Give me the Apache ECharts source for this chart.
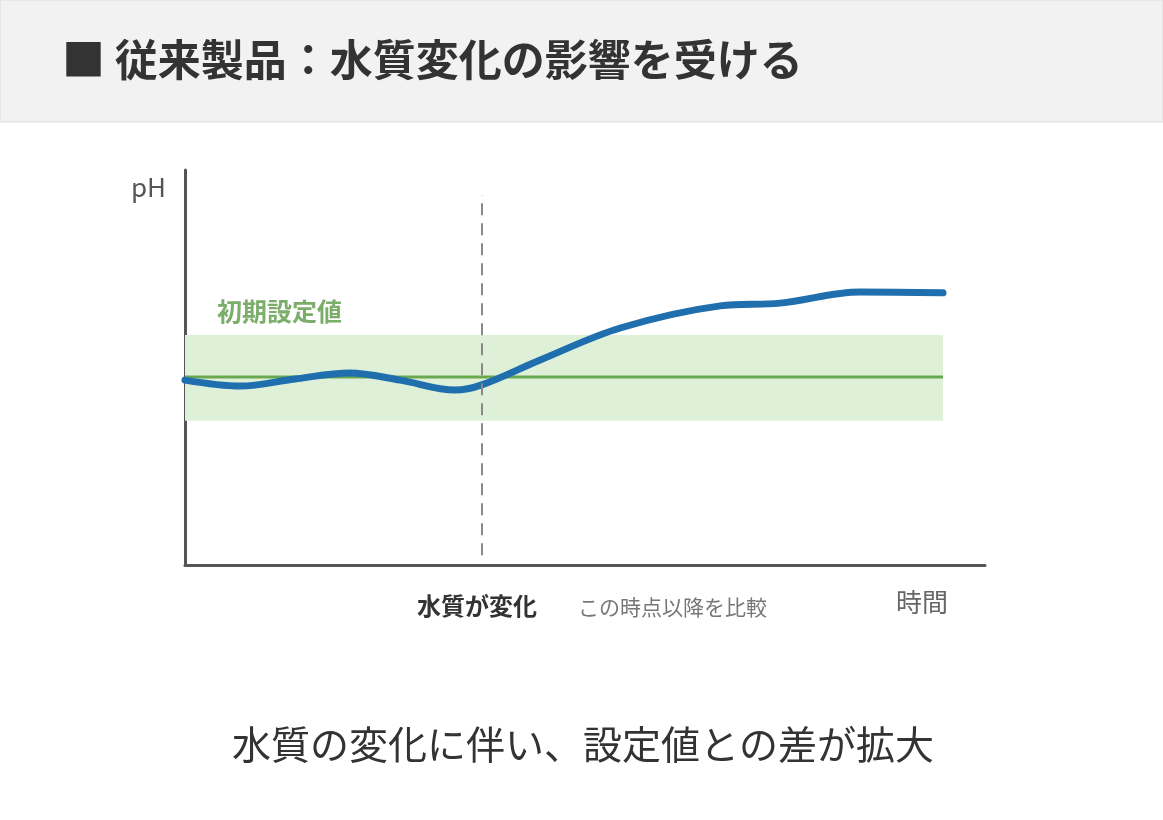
<!DOCTYPE html><html><head><meta charset="utf-8">
<script src="https://cdn.jsdelivr.net/npm/echarts@6/dist/echarts.min.js"></script>
<style>html,body{margin:0;padding:0;background:#fff}#c{width:1163px;height:820px}</style></head><body><div id="c"></div>
<script>
const timeX = [0, 6.9, 13.75, 20.6, 26.9, 33.75, 37.1, 44.4, 54.4, 66.9, 74.4, 84.4, 94.75];
const phValues = [46.8, 45.3, 47.1, 48.6, 46.8, 44.3, 45.6, 51.9, 60, 65.6, 66.3, 69.1, 68.9];
const setValue = 47.6;
const bandRange = [36.5, 58.2];
const changeX = 37.1;
const font = '"Noto Sans CJK JP", sans-serif';
const chart = echarts.init(document.getElementById('c'));
chart.setOption({
  animation: false,
  grid: {left: 185, top: 170, width: 800, height: 395},
  xAxis: {type: 'value', min: 0, max: 100, axisLine: {show: true, lineStyle: {color: '#555', width: 3}}, axisTick: {show: false}, axisLabel: {show: false}, splitLine: {show: false}},
  yAxis: {type: 'value', min: 0, max: 100, axisLine: {show: true, lineStyle: {color: '#555', width: 3}}, axisTick: {show: false}, axisLabel: {show: false}, splitLine: {show: false}},
  series: [
    {type: 'line', data: [[0, setValue], [94.75, setValue]], symbol: 'none', lineStyle: {color: '#6aa84f', width: 3}, z: 2,
     markArea: {silent: true, itemStyle: {color: '#dff0d8'}, data: [[{xAxis: 0, yAxis: bandRange[0]}, {xAxis: 94.75, yAxis: bandRange[1]}]]},
     markLine: {silent: true, symbol: 'none', label: {show: false}, lineStyle: {color: '#888', type: [12, 8], width: 2},
       data: [[{coord: [changeX, 2.5]}, {coord: [changeX, 93.7]}]]}},
    {type: 'line', data: timeX.map((x, i) => [x, phValues[i]]), smooth: 0.35, symbol: 'none', lineStyle: {color: '#1f6fae', width: 7, cap: 'round'}, z: 3}
  ],
  graphic: [
    {type: 'rect', shape: {x: 0, y: 0, width: 1163, height: 122}, style: {fill: '#f2f2f2', stroke: '#ddd', lineWidth: 1}},
    {type: 'text', x: 62, y: 60, style: {text: '■ 従来製品：水質変化の影響を受ける', font: 'bold 43px ' + font, fill: '#333', verticalAlign: 'middle'}},
    {type: 'text', x: 131, y: 187, style: {text: 'pH', font: '26px ' + font, fill: '#555', verticalAlign: 'middle'}},
    {type: 'text', x: 217, y: 311, style: {text: '初期設定値', font: 'bold 25px ' + font, fill: '#7cae6b', verticalAlign: 'middle'}},
    {type: 'text', x: 896, y: 602, style: {text: '時間', font: '26px ' + font, fill: '#666', verticalAlign: 'middle'}},
    {type: 'text', x: 417, y: 606, style: {text: '水質が変化', font: 'bold 24px ' + font, fill: '#333', verticalAlign: 'middle'}},
    {type: 'text', x: 578, y: 607, style: {text: 'この時点以降を比較', font: '21px ' + font, fill: '#777', verticalAlign: 'middle'}},
    {type: 'text', x: 583, y: 744, style: {text: '水質の変化に伴い、設定値との差が拡大', font: '39px ' + font, fill: '#333', align: 'center', verticalAlign: 'middle'}}
  ]
});
</script></body></html>
